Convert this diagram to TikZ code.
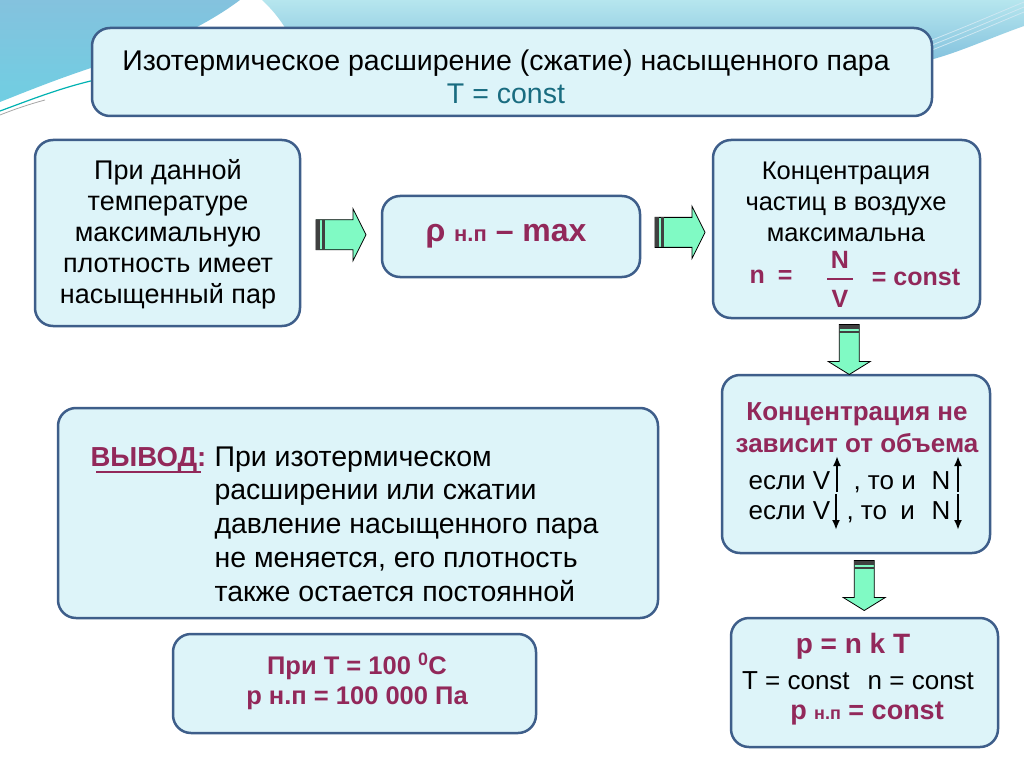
\documentclass[tikz,border=0pt]{standalone}
\usepackage{fontspec}
\setmainfont{Liberation Sans}
\usepackage{tikz}
\usetikzlibrary{
	calc,
	positioning,
	arrows.meta
}

\definecolor{boxfill}{RGB}{221,244,249}
\definecolor{boxline}{RGB}{62,94,138}
\definecolor{plum}{RGB}{146,40,90}
\definecolor{tealtext}{RGB}{25,108,128}
\definecolor{arrowgreen}{RGB}{128,250,196}
\definecolor{skydark}{RGB}{132,194,222}
\definecolor{skymid}{RGB}{112,206,226}
\definecolor{skylight}{RGB}{182,230,238}

% block arrow: centre, angle, half shaft, half head
\newcommand{\blockarrow}[4]{%
	\begin{scope}[shift={#1}, rotate=#2]
		\draw[fill=arrowgreen, line width=0.8pt] (-25,-#3) -- (12,-#3) -- (12,-#4) -- (25,0) -- (12,#4) -- (12,#3) -- (-25,#3) -- cycle;
		\fill[black!75] (-25,-#3) rectangle (-21,#3);
		\fill[black!75] (-19,-#3) rectangle (-16.5,#3);
	\end{scope}}

\begin{document}
\begin{tikzpicture}[
				x=1pt, y=-1pt,
				box/.style={draw=boxline, fill=boxfill, line width=2.5pt, rounded corners=18pt, inner sep=0pt},
				body/.style={font=\fontsize{27}{31}\selectfont, align=center},
				hot/.style={text=plum, font=\fontsize{26}{32}\selectfont\bfseries, align=center},
				small/.style={-{Latex[length=10pt,width=8pt]}, line width=2pt}
			]
				\useasboundingbox (0,0) rectangle (1024,767);
				\fill[white] (0,0) rectangle (1024,767);

				% фон
				\shade[top color=skydark, bottom color=skymid] (0,0) -- (240,0) .. controls (200,30) and (150,50) .. (110,62) .. controls (70,74) and (30,90) .. (0,102) -- cycle;
				\shade[top color=skylight, bottom color=skydark] (262,0) -- (1024,0) -- (1024,26) .. controls (990,38) and (960,52) .. (930,60) -- (300,60) .. controls (290,30) and (275,12) .. (262,0) -- cycle;
				\draw[teal!60!cyan, line width=1.2pt] (0,111) .. controls (30,100) and (60,88) .. (95,80);
				\draw[gray!70, line width=0.8pt] (0,115) .. controls (15,109) and (30,104) .. (45,100);
				\foreach \d in {0,5,10}
					\draw[white!60!skydark, line width=0.8pt] (932,40+\d) .. controls (970,25+\d) and (1000,12+\d) .. (1024,2+\d);

				% заголовок
				\node[box, minimum width=840pt, minimum height=88pt] (title) at (512,72) {};
				\node[body, font=\fontsize{28.5}{33}\selectfont] (head) at (506,77) {Изотермическое расширение (сжатие) насыщенного пара\\\textcolor{tealtext}{T = const}};

				% блоки
				\node[box, minimum width=265pt, minimum height=186pt] (lbox) at (167.5,233) {};
				\node[body] (ltext) at (168,234) {При данной\\температуре\\максимальную\\плотность имеет\\насыщенный пар};

				\node[box, minimum width=258pt, minimum height=81pt] (rho) at (511,236.5) {};
				\node[text=plum, font=\fontsize{32}{32}\selectfont\bfseries] (rhotext) at (506,236) {ρ {\fontsize{22}{22}\selectfont н.п} – max};

				\node[box, minimum width=267pt, minimum height=178pt] (rtop) at (846.5,229) {};
				\node[body, font=\fontsize{25.5}{31}\selectfont] (rtoptext) at (846,202) {Концентрация\\частиц в воздухе\\максимальна};
				\node[hot, font=\fontsize{25}{32}\selectfont\bfseries] (nn) at (771,277) {n\hspace{13pt}=};
				\node[hot, font=\fontsize{25}{32}\selectfont\bfseries] (num) at (840,260) {N};
				\node[hot, font=\fontsize{25}{32}\selectfont\bfseries] (den) at (840,299) {V};
				\draw[plum, line width=1.6pt] (num.south west |- 0,279) -- (num.south east |- 0,279);
				\node[hot, font=\fontsize{25}{32}\selectfont\bfseries] (cst) at (916,277) {= const};

				\node[box, minimum width=268pt, minimum height=178pt] (rmid) at (856,464) {};
				\node[hot] (rmidtext) at (857,428) {Концентрация не\\зависит от объема};
				\node[body, font=\fontsize{26}{31}\selectfont, anchor=base west] (va) at (745,489) {если V};
				\node[body, font=\fontsize{26}{31}\selectfont, anchor=base west] (toa) at (850,489) {, то и};
				\node[body, font=\fontsize{26}{31}\selectfont, anchor=base west] (na) at (928,489) {N};
				\node[body, font=\fontsize{26}{31}\selectfont, anchor=base west] (vb) at (745,519) {если V};
				\node[body, font=\fontsize{26}{31}\selectfont, anchor=base west] (tob) at (843,519) {, то\hspace{6pt} и};
				\node[body, font=\fontsize{26}{31}\selectfont, anchor=base west] (nb) at (928,519) {N};
				% стрелки вверх/вниз
				\coordinate (va0) at (837,492);
				\coordinate (va1) at (837,456);
				\coordinate (na0) at (958,492);
				\coordinate (na1) at (958,456);
				\coordinate (vb0) at (836,494);
				\coordinate (vb1) at (836,530);
				\coordinate (nb0) at (958,494);
				\coordinate (nb1) at (958,530);
				\draw[small] (va0) -- (va1);
				\draw[small] (na0) -- (na1);
				\draw[small] (vb0) -- (vb1);
				\draw[small] (nb0) -- (nb1);

				\node[box, minimum width=267pt, minimum height=129pt] (rbot) at (864.5,682.5) {};
				\node[hot, font=\fontsize{28}{28}\selectfont\bfseries] (pnkt) at (853,646) {p = n k T};
				\node[body, font=\fontsize{26}{31}\selectfont] (tn) at (858,681) {T = const\hspace{18pt}n = const};
				\node[hot, font=\fontsize{27}{28}\selectfont\bfseries] (pconst) at (867,713) {p {\fontsize{18}{18}\selectfont н.п} = const};

				% вывод
				\node[box, minimum width=600pt, minimum height=210pt] (concl) at (358,513) {};
				\node[text=plum, font=\fontsize{27.5}{27.5}\selectfont\bfseries, anchor=base west] (vyvod) at (87,466) {ВЫВОД:};
				\draw[plum, line width=2.6pt] ($(vyvod.base west)+(9,6)$) -- ($(vyvod.base east)+(-9,6)$);
				\node[font=\fontsize{28.5}{33.7}\selectfont, align=left, anchor=west] (concltext) at (211,524) {При изотермическом\\расширении или сжатии\\давление насыщенного пара\\не меняется, его плотность\\также остается постоянной};

				\node[box, minimum width=363pt, minimum height=99pt] (boil) at (354.5,683.5) {};
				\node[hot, font=\fontsize{25.5}{30}\selectfont\bfseries] (boiltext) at (357,681) {При T = 100 \textsuperscript{0}C\\p н.п = 100 000 Па};

				% блочные стрелки
				\blockarrow{($(lbox.east)!0.5!(rho.west)$)}{0}{15}{26}
				\blockarrow{($(rho.east)!0.55!(rtop.west)$)}{0}{15}{26}
				\blockarrow{($(rtop.south)!0.5!(rmid.north)+(-2,3)$)}{-90}{10}{21}
				\blockarrow{($(rmid.south)!0.5!(rbot.north)+(4,0)$)}{-90}{10}{21}
			\end{tikzpicture}
\end{document}
